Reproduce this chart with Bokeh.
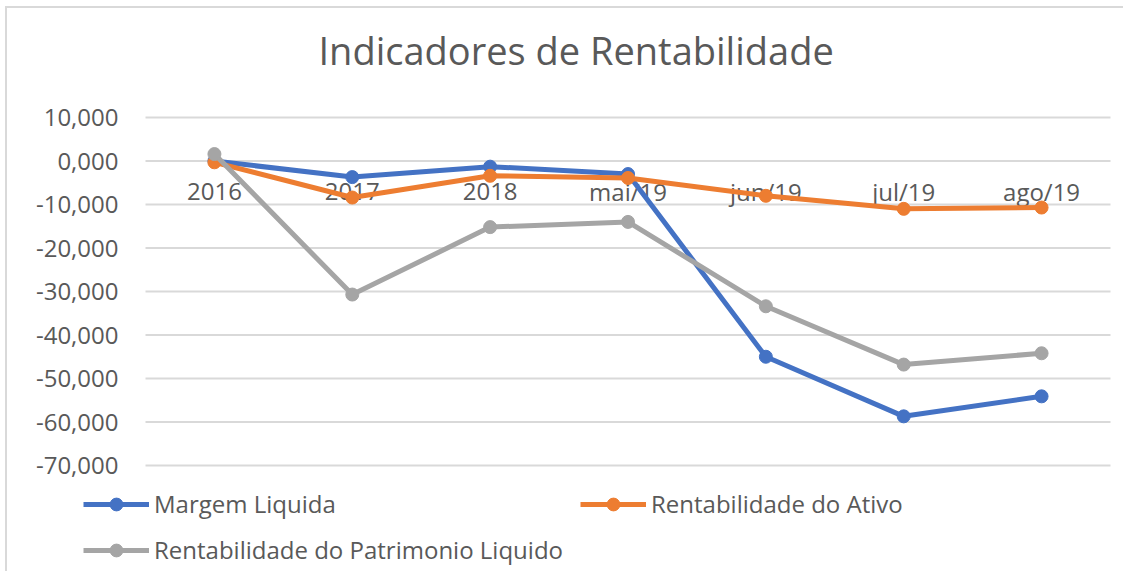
from bokeh.plotting import figure
from bokeh.models import ColumnDataSource, Legend, LegendItem, Range1d
from bokeh.core.properties import value
from bokeh.embed import file_html
from bokeh.resources import INLINE

categories = ["2016", "2017", "2018", "mai/19", "jun/19", "jul/19", "ago/19"]
margem_liquida = [0.0, -3.7, -1.3, -3.0, -45.0, -58.7, -54.1]
rent_ativo = [-0.3, -8.4, -3.4, -3.9, -8.0, -11.0, -10.7]
rent_patrimonio = [1.6, -30.7, -15.2, -14.0, -33.4, -46.8, -44.2]
y_ticks = [10, 0, -10, -20, -30, -40, -50, -60, -70]
y_tick_labels = ["10,000", "0,000", "-10,000", "-20,000", "-30,000", "-40,000", "-50,000", "-60,000", "-70,000"]

FONT = "Open Sans"
TXT = "#595959"
GRID = "#D9D9D9"
COLORS = ["#4472C4", "#ED7D31", "#A5A5A5"]
NAMES = ["Margem Liquida", "Rentabilidade do Ativo", "Rentabilidade do Patrimonio Liquido"]

# layout (page pixels): figure starts at (7, 8)
W, H = 1118, 565
ORG_X, ORG_Y = 7, 8
TOP_BORDER = 72
PLOT_L, PLOT_R = 145, 1110        # plot area where the categories live
Y_TOP_PX, Y_BOT_PX = 117, 465     # pixels of the first and last tick
n = len(categories)
ppx = (PLOT_R - PLOT_L) / n
ppy = (Y_BOT_PX - Y_TOP_PX) / (max(y_ticks) - min(y_ticks))
fl, fr = ORG_X, ORG_X + W
ft, fb = ORG_Y + TOP_BORDER, ORG_Y + H
x0 = -0.5 - (PLOT_L - fl) / ppx
x1 = n - 0.5 + (fr - PLOT_R) / ppx
y1 = max(y_ticks) + (Y_TOP_PX - ft) / ppy
y0 = min(y_ticks) - (fb - Y_BOT_PX) / ppy

p = figure(width=W, height=H, x_range=Range1d(x0, x1), y_range=Range1d(y0, y1),
           output_backend="svg", toolbar_location=None, x_axis_location=None,
           y_axis_location=None, min_border_left=0, min_border_right=0,
           min_border_top=TOP_BORDER, min_border_bottom=0)
p.styles = {"margin-left": "5px", "margin-top": "6px",
            "border-top": "2px solid #D9D9D9", "border-left": "2px solid #D9D9D9"}
p.grid.visible = False
p.outline_line_color = None

p.title.text = "Indicadores de Rentabilidade"
p.title.align = "left"
p.title.offset = 318 - fl
p.title.text_font = FONT
p.title.text_font_size = "38px"
p.title.text_font_style = "normal"
p.title.text_color = TXT

idx = list(range(n))

# horizontal gridlines across the plot area
p.segment(x0=[-0.5] * len(y_ticks), x1=[n - 0.5] * len(y_ticks), y0=y_ticks, y1=y_ticks,
          line_color=GRID, line_width=2)

# value labels on the left
p.text(x=[-0.5] * len(y_ticks), y=y_ticks, text=y_tick_labels, text_font=value(FONT),
       text_font_size="24px", text_color=TXT, text_align="right", text_baseline="middle",
       x_offset=-27)

# category labels sitting just under the 0 line
p.text(x=idx, y=[0] * n, text=categories, text_font=value(FONT), text_font_size="24px",
       text_color=TXT, text_align="center", text_baseline="middle", y_offset=30)

src = ColumnDataSource(dict(x=idx, m=margem_liquida, a=rent_ativo, r=rent_patrimonio))
items = []
for col, color, name in zip(["m", "a", "r"], COLORS, NAMES):
    l = p.line(x="x", y=col, source=src, line_color=color, line_width=5)
    s = p.scatter(x="x", y=col, source=src, size=13, fill_color=color, line_color=color)
    items.append(LegendItem(label=name, renderers=[l, s]))

legend = Legend(items=items, location=(83 - fl, 7), orientation="horizontal", ncols=2,
                glyph_width=66, glyph_height=32, label_height=32, label_width=413,
                label_standoff=5, spacing=13, padding=0, margin=0,
                border_line_color=None, background_fill_alpha=0,
                label_text_font=FONT, label_text_font_size="24px", label_text_color=TXT)
p.add_layout(legend, "center")

open("out.html", "w").write(file_html(p, INLINE))
